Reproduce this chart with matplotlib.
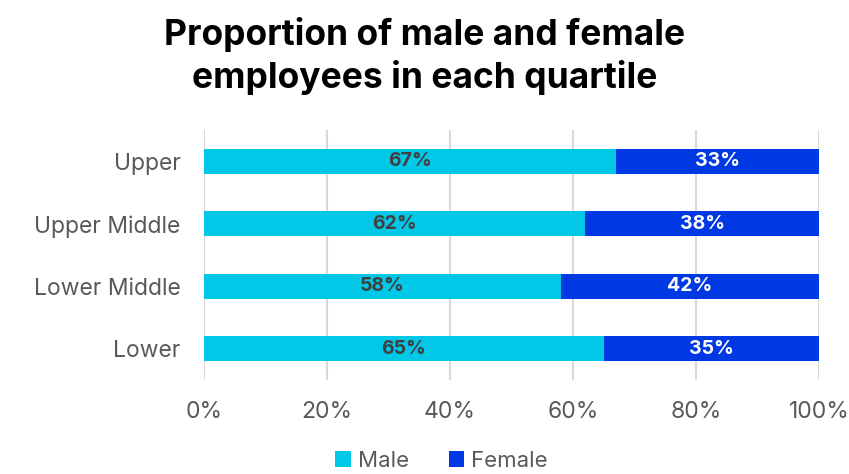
import numpy as np
import matplotlib.pyplot as plt

quartiles = ["Upper", "Upper Middle", "Lower Middle", "Lower"]
male = [67, 62, 58, 65]
female = [33, 38, 42, 35]
xticks = [0, 20, 40, 60, 80, 100]

plt.rcParams['font.family'] = ['Inter', 'DejaVu Sans']

fig = plt.figure(figsize=(8.49, 4.74), dpi=100)
ax = fig.add_axes([0.2403, 0.1983, 0.7244, 0.5274])

y = np.arange(len(quartiles))[::-1]
c_male = "#00C8E6"
c_female = "#0039E3"
ax.barh(y, male, height=0.4, color=c_male, label="Male", zorder=3)
ax.barh(y, female, left=male, height=0.4, color=c_female, label="Female", zorder=3)

for yi, m, f in zip(y, male, female):
    ax.text(m / 2, yi, "{}%".format(m), ha="center", va="center",
            fontsize=14, fontweight="bold", color="#404040", zorder=4)
    ax.text(m + f / 2, yi, "{}%".format(f), ha="center", va="center",
            fontsize=14, fontweight="bold", color="white", zorder=4)

ax.set_xlim(0, 100)
ax.set_ylim(-0.5, 3.5)
ax.set_xticks(xticks)
ax.set_xticklabels(["{}%".format(t) for t in xticks])
ax.set_yticks(y)
ax.set_yticklabels(quartiles)
ax.tick_params(axis="both", length=0, labelsize=16.5, labelcolor="#595959")
ax.tick_params(axis="x", pad=15)
ax.tick_params(axis="y", pad=17)
ax.grid(axis="x", color="#D9D9D9", linewidth=1.5, zorder=0)
for s in ax.spines.values():
    s.set_visible(False)

fig.suptitle("Proportion of male and female\nemployees in each quartile",
             fontsize=25.5, fontweight="bold", y=0.964, linespacing=1.3)

fig.legend(loc="lower center", ncol=2, frameon=False, fontsize=16,
           bbox_to_anchor=(0.52, -0.035), handlelength=0.7, handleheight=0.7,
           handletextpad=0.3, columnspacing=1.8, labelcolor="#595959")

fig.savefig("out.png", dpi=100)
